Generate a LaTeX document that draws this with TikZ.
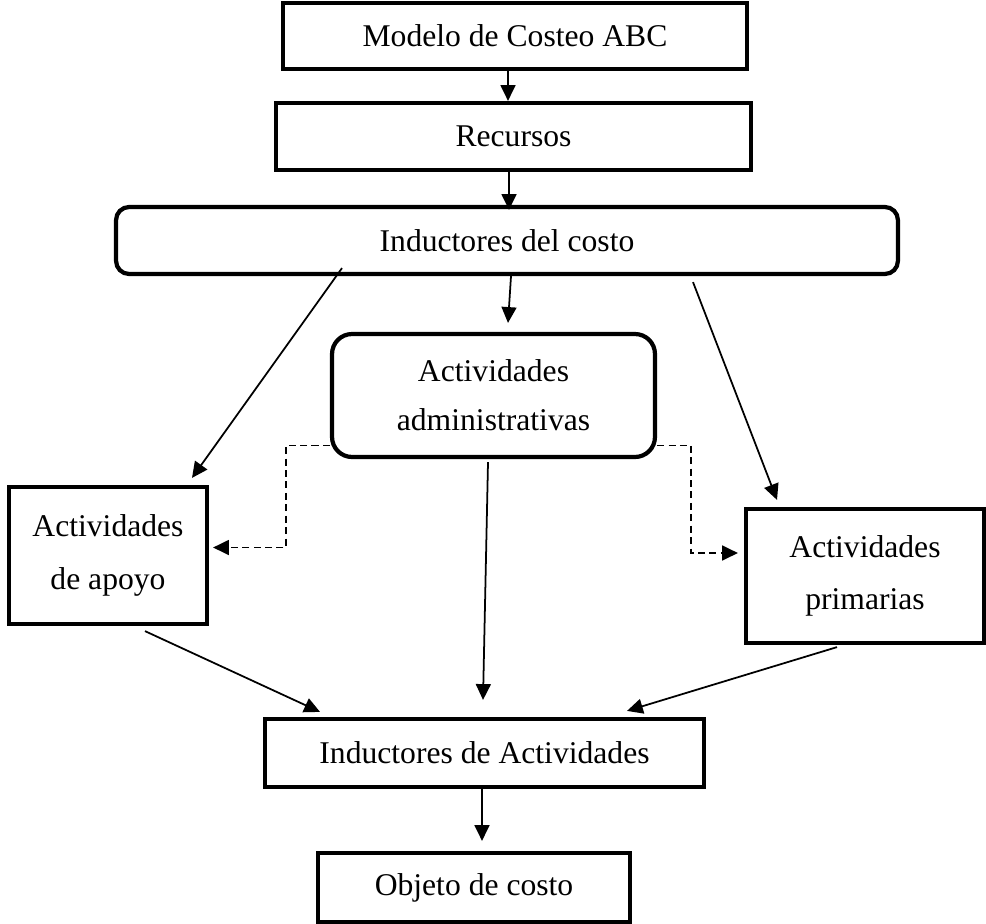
\documentclass[tikz,border=0pt]{standalone}
\usepackage{fontspec}
\setmainfont{Liberation Serif}
\usetikzlibrary{arrows.meta,calc}

\begin{document}
\begin{tikzpicture}[x=0.02cm,y=-0.02cm,
  >={Triangle[length=9pt,width=8.5pt]},
  box/.style={draw,line width=2.4pt,align=center,inner sep=0pt,
    font=\fontsize{18}{30}\selectfont},
  rbox/.style={box,rounded corners=0.3cm},
  link/.style={->,line width=1pt},
  dlink/.style={link,dash pattern=on 4pt off 2.5pt}]
\useasboundingbox (0,0) rectangle (986,923);
%top chain
\node[box,minimum width=9.28cm,minimum height=1.32cm] (modelo) at (515,36) {Modelo de Costeo ABC};
\node[box,minimum width=9.5cm,minimum height=1.34cm] (recursos) at (513.5,136.5) {Recursos};
\node[rbox,rounded corners=0.26cm,minimum width=15.64cm,minimum height=1.34cm] (costo) at (507,240.5) {Inductores del costo};
%activities
\node[rbox,rounded corners=0.4cm,minimum width=6.46cm,minimum height=2.46cm,
  font=\fontsize{18}{28}\selectfont] (admin) at (493.5,395.5) {Actividades\\administrativas};
\node[box,minimum width=3.96cm,minimum height=2.74cm] (apoyo) at (108,555.5) {Actividades\\de apoyo};
\node[box,minimum width=4.76cm,minimum height=2.68cm] (primarias) at (865,576) {Actividades\\primarias};
%bottom chain
\node[box,minimum width=8.78cm,minimum height=1.36cm] (actividades) at (484.5,753) {Inductores de Actividades};
\node[box,minimum width=6.24cm,minimum height=1.38cm] (objeto) at (474,887.5) {Objeto de costo};
%down arrows
\draw[link] ($(modelo.south)+(-7,0)$) -- ($(recursos.north)+(-5.5,0)$);
\draw[link] ($(recursos.south)+(-4.5,0)$) -- ($(costo.north)+(2,5)$);
\draw[link] ($(costo.south)+(4,0)$) -- ($(admin.north)+(14.5,-9)$);
\draw[link] ($(costo.south)+(-165,-8)$) -- ($(apoyo.north)+(84,-7)$);
\draw[link] ($(costo.south)+(186,6)$) -- ($(primarias.north)+(-88,-7)$);
%dashed links
\draw[dlink] ($(admin.west)+(0,50)$) -- ++(-44,0) |- ($(apoyo.east)+(4,-8)$);
\draw[dlink] ($(admin.east)+(0,50)$) -- ++(34,0) |- ($(primarias.west)+(-6,-23)$);
%into activity drivers
\draw[link] ($(admin.south)+(-5.5,3)$) -- ($(actividades.north)+(-1.5,-17)$);
\draw[link] ($(apoyo.south)+(37,5)$) -- ($(actividades.north)+(-164.5,-5)$);
\draw[link] ($(primarias.south)+(-28,2)$) -- ($(actividades.north)+(142.5,-6)$);
\draw[link] ($(actividades.south)+(-2.5,0)$) -- ($(objeto.north)+(8,-10)$);
\end{tikzpicture}
\end{document}
